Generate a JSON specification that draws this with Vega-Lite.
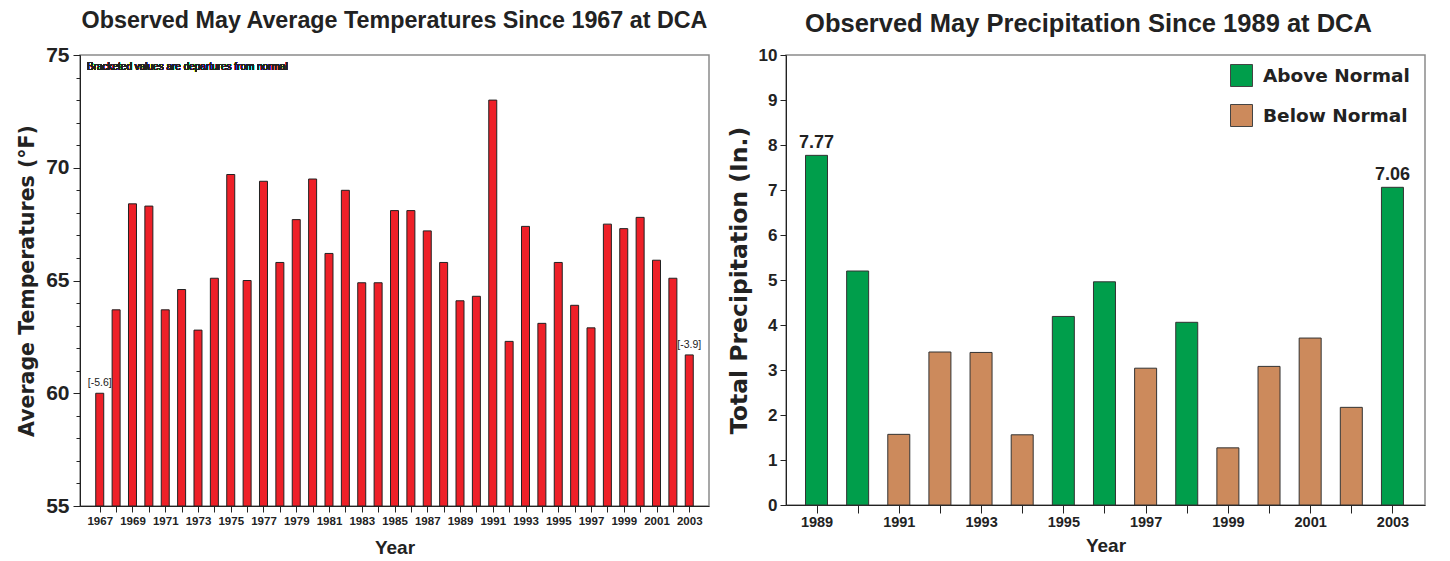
{
  "$schema": "https://vega.github.io/schema/vega-lite/v6.json",
  "background": "white",
  "padding": {"left": 16, "top": 7, "right": 5, "bottom": 5},
  "spacing": 16,
  "resolve": {"legend": {"color": "independent"}, "scale": {"color": "independent"}},
  "config": {
    "view": {"stroke": "#8a8a8a", "strokeWidth": 1.5},
    "axis": {"domainColor": "#222", "tickColor": "#222", "labelColor": "#222", "titleColor": "#222", "grid": false, "labelOverlap": false, "labelFlush": false},
    "title": {"font": "Liberation Sans, Arial, sans-serif", "fontWeight": "bold", "color": "#222", "anchor": "middle"}
  },
  "datasets": {
    "temps": [
      {"year": 1967, "temp": 60.0, "dep": "[-5.6]"},
      {"year": 1968, "temp": 63.7},
      {"year": 1969, "temp": 68.4},
      {"year": 1970, "temp": 68.3},
      {"year": 1971, "temp": 63.7},
      {"year": 1972, "temp": 64.6},
      {"year": 1973, "temp": 62.8},
      {"year": 1974, "temp": 65.1},
      {"year": 1975, "temp": 69.7},
      {"year": 1976, "temp": 65.0},
      {"year": 1977, "temp": 69.4},
      {"year": 1978, "temp": 65.8},
      {"year": 1979, "temp": 67.7},
      {"year": 1980, "temp": 69.5},
      {"year": 1981, "temp": 66.2},
      {"year": 1982, "temp": 69.0},
      {"year": 1983, "temp": 64.9},
      {"year": 1984, "temp": 64.9},
      {"year": 1985, "temp": 68.1},
      {"year": 1986, "temp": 68.1},
      {"year": 1987, "temp": 67.2},
      {"year": 1988, "temp": 65.8},
      {"year": 1989, "temp": 64.1},
      {"year": 1990, "temp": 64.3},
      {"year": 1991, "temp": 73.0},
      {"year": 1992, "temp": 62.3},
      {"year": 1993, "temp": 67.4},
      {"year": 1994, "temp": 63.1},
      {"year": 1995, "temp": 65.8},
      {"year": 1996, "temp": 63.9},
      {"year": 1997, "temp": 62.9},
      {"year": 1998, "temp": 67.5},
      {"year": 1999, "temp": 67.3},
      {"year": 2000, "temp": 67.8},
      {"year": 2001, "temp": 65.9},
      {"year": 2002, "temp": 65.1},
      {"year": 2003, "temp": 61.7, "dep": "[-3.9]"}
    ],
    "precip": [
      {"year": 1989, "precip": 7.77, "cat": "Above Normal", "lab": "7.77"},
      {"year": 1990, "precip": 5.20, "cat": "Above Normal"},
      {"year": 1991, "precip": 1.57, "cat": "Below Normal"},
      {"year": 1992, "precip": 3.40, "cat": "Below Normal"},
      {"year": 1993, "precip": 3.39, "cat": "Below Normal"},
      {"year": 1994, "precip": 1.56, "cat": "Below Normal"},
      {"year": 1995, "precip": 4.19, "cat": "Above Normal"},
      {"year": 1996, "precip": 4.96, "cat": "Above Normal"},
      {"year": 1997, "precip": 3.04, "cat": "Below Normal"},
      {"year": 1998, "precip": 4.06, "cat": "Above Normal"},
      {"year": 1999, "precip": 1.27, "cat": "Below Normal"},
      {"year": 2000, "precip": 3.08, "cat": "Below Normal"},
      {"year": 2001, "precip": 3.71, "cat": "Below Normal"},
      {"year": 2002, "precip": 2.17, "cat": "Below Normal"},
      {"year": 2003, "precip": 7.06, "cat": "Above Normal", "lab": "7.06"}
    ]
  },
  "hconcat": [
    {
      "width": 629,
      "height": 451,
      "title": {"text": "Observed May Average Temperatures Since 1967 at DCA", "fontSize": 23.3, "offset": 11},
      "data": {"name": "temps"},
      "encoding": {
        "x": {
          "field": "year", "type": "quantitative",
          "scale": {"domain": [1966.1, 2003.9], "nice": false, "zero": false},
          "axis": {
            "title": "Year", "titleFont": "Liberation Sans, Arial, sans-serif", "titleFontSize": 19, "titleFontWeight": "bold", "titlePadding": 12,
            "values": [1967,1968,1969,1970,1971,1972,1973,1974,1975,1976,1977,1978,1979,1980,1981,1982,1983,1984,1985,1986,1987,1988,1989,1990,1991,1992,1993,1994,1995,1996,1997,1998,1999,2000,2001,2002,2003],
            "format": "d",
            "labelExpr": "datum.value % 2 === 1 ? datum.label : ''",
            "labelFont": "Liberation Sans, Arial, sans-serif", "labelFontSize": 11.5, "labelFontWeight": "bold",
            "tickSize": 6, "labelPadding": 3
          }
        },
        "y": {
          "field": "temp", "type": "quantitative",
          "scale": {"domain": [55, 75], "nice": false, "zero": false},
          "axis": {
            "title": "Average Temperatures (°F)", "titleFont": "DejaVu Sans, sans-serif", "titleFontSize": 20.5, "titleFontWeight": "bold", "titlePadding": 8,
            "values": [55,56,57,58,59,60,61,62,63,64,65,66,67,68,69,70,71,72,73,74,75],
            "labelExpr": "datum.value % 5 === 0 ? datum.label : ''",
            "tickSize": {"condition": {"test": "datum.value % 5 === 0", "value": 7}, "value": 4},
            "labelFont": "Liberation Sans, Arial, sans-serif", "labelFontSize": 21, "labelFontWeight": "bold", "labelPadding": 4
          }
        }
      },
      "layer": [
        {
          "mark": {"type": "bar", "size": 8, "color": "#EE2028", "stroke": "#222", "strokeWidth": 1},
          "encoding": {"y2": {"datum": 55}}
        },
        {
          "transform": [{"filter": "datum.dep != null"}],
          "mark": {"type": "text", "font": "Liberation Sans, Arial, sans-serif", "fontSize": 10.5, "dy": -10, "color": "#222"},
          "encoding": {"text": {"field": "dep"}}
        },
        {
          "mark": {"type": "text", "font": "Liberation Sans, Arial, sans-serif", "fontSize": 10, "fontWeight": "normal", "align": "left", "baseline": "middle", "color": "#222"},
          "encoding": {
            "x": {"datum": 1966.22},
            "y": {"datum": 74.45},
            "text": {"value": "Bracketed values are departures from normal"}
          }
        }
      ]
    },
    {
      "width": 639,
      "height": 450,
      "title": {"text": "Observed May Precipitation Since 1989 at DCA", "fontSize": 25.5, "offset": 9, "dx": -17},
      "data": {"name": "precip"},
      "encoding": {
        "x": {
          "field": "year", "type": "quantitative",
          "scale": {"domain": [1988.38, 2003.67], "nice": false, "zero": false},
          "axis": {
            "title": "Year", "titleFont": "Liberation Sans, Arial, sans-serif", "titleFontSize": 19, "titleFontWeight": "bold", "titlePadding": 8,
            "values": [1989,1990,1991,1992,1993,1994,1995,1996,1997,1998,1999,2000,2001,2002,2003],
            "format": "d",
            "labelExpr": "datum.value % 2 === 1 ? datum.label : ''",
            "labelFont": "Liberation Sans, Arial, sans-serif", "labelFontSize": 14.5, "labelFontWeight": "bold",
            "tickSize": 8, "labelPadding": 2
          }
        },
        "y": {
          "field": "precip", "type": "quantitative",
          "scale": {"domain": [0, 10], "nice": false},
          "axis": {
            "title": "Total Precipitation (In.)", "titleFont": "DejaVu Sans, sans-serif", "titleFontSize": 23.5, "titleFontWeight": "bold", "titlePadding": 7,
            "values": [0,0.25,0.5,0.75,1,1.25,1.5,1.75,2,2.25,2.5,2.75,3,3.25,3.5,3.75,4,4.25,4.5,4.75,5,5.25,5.5,5.75,6,6.25,6.5,6.75,7,7.25,7.5,7.75,8,8.25,8.5,8.75,9,9.25,9.5,9.75,10],
            "format": "d",
            "labelExpr": "datum.value % 1 === 0 ? datum.label : ''",
            "tickSize": {"condition": {"test": "datum.value % 1 === 0", "value": 6}, "value": 3},
            "labelFont": "Liberation Sans, Arial, sans-serif", "labelFontSize": 17, "labelFontWeight": "bold", "labelPadding": 3
          }
        }
      },
      "layer": [
        {
          "mark": {"type": "bar", "size": 22, "stroke": "#333", "strokeWidth": 1},
          "encoding": {
            "y2": {"datum": 0},
            "color": {
              "field": "cat", "type": "nominal",
              "scale": {"domain": ["Above Normal", "Below Normal"], "range": ["#009E4B", "#CC8A5C"]},
              "legend": {
                "title": null, "orient": "none", "legendX": 444, "legendY": 9,
                "symbolType": "square", "symbolSize": 484, "symbolStrokeColor": "#444", "symbolStrokeWidth": 1, "symbolOpacity": 1,
                "labelFont": "DejaVu Sans, sans-serif", "labelFontSize": 18.5, "labelFontWeight": "bold", "labelColor": "#222",
                "rowPadding": 13, "labelOffset": 10
              }
            }
          }
        },
        {
          "transform": [{"filter": "datum.lab != null"}],
          "mark": {"type": "text", "font": "Liberation Sans, Arial, sans-serif", "fontSize": 18, "fontWeight": "bold", "dy": -12, "color": "#222"},
          "encoding": {"text": {"field": "lab"}}
        }
      ]
    }
  ]
}
